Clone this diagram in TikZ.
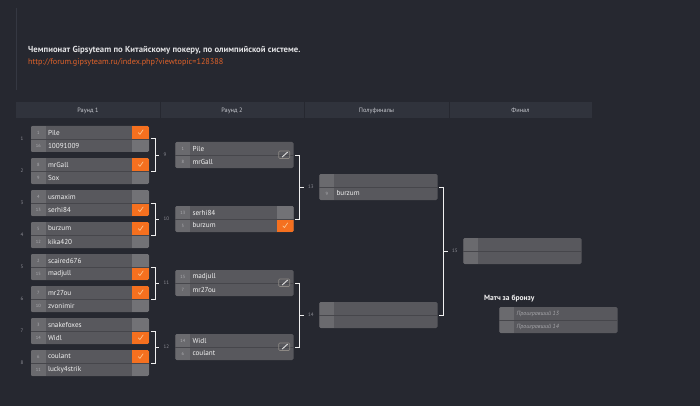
\documentclass[tikz,border=0pt]{standalone}
\usepackage{fontspec}
\setmainfont{PT Sans}
\usetikzlibrary{calc}
\definecolor{bg}{HTML}{262830}
\definecolor{vlc}{HTML}{353842}
\definecolor{barc}{HTML}{30333C}
\definecolor{bartxt}{HTML}{C6C8CE}
\definecolor{boxc}{HTML}{58585D}
\definecolor{seedc}{HTML}{6A6A6E}
\definecolor{emptyc}{HTML}{727276}
\definecolor{sepc}{HTML}{46464B}
\definecolor{orc}{HTML}{F5701F}
\definecolor{linkc}{HTML}{E0622A}
\definecolor{titc}{HTML}{E2E2E4}
\definecolor{lblc}{HTML}{8E8E96}
\definecolor{namec}{HTML}{F2F2F2}
\definecolor{seedtc}{HTML}{AEAEB2}
\definecolor{ticc}{HTML}{F9C490}
\definecolor{lossc}{HTML}{A6A6AA}
\definecolor{icc}{HTML}{8C8884}
\definecolor{brkc}{HTML}{F0F0F0}
\tikzset{
  mbox/.style={rectangle, rounded corners=1.5pt, fill=boxc, minimum width=118pt, minimum height=26pt, inner sep=0pt},
  seedt/.style={font=\fontsize{4.5}{5}\selectfont, text=seedtc, inner sep=0pt},
  pname/.style={font=\fontsize{7.2}{8}\selectfont, text=namec, inner sep=0pt, anchor=west},
  mlabel/.style={font=\fontsize{5}{6}\selectfont, text=lblc, inner sep=0pt},
  brk/.style={draw=brkc, line width=1pt},
  bartext/.style={font=\fontsize{6.3}{7}\selectfont, text=bartxt, inner sep=0pt},
  losst/.style={font=\itshape\fontsize{6}{7}\selectfont, text=lossc, inner sep=0pt, anchor=west}
}
\newcommand\matchnode[3]{%
  \node[mbox] (#1) at (#2,#3) {};
  \begin{scope}
    \clip[rounded corners=1.5pt] (#1.north west) rectangle (#1.south east);
    \fill[seedc] (#1.north west) rectangle ($(#1.south west)+(15,0)$);
  \end{scope}}
\newcommand\cellon[3]{%
  \begin{scope}
    \clip[rounded corners=1.5pt] (#1.north west) rectangle (#1.south east);
    \fill[orc] ($(#1.#2)+(-17,0)$) rectangle (#1.#3);
  \end{scope}
  \path ($(#1.#2)!0.5!(#1.#3)+(-8.5,0)$) coordinate (ck);
  \draw[ticc, line width=0.7pt, line cap=round, line join=round]
    ($(ck)+(-2.4,0.2)$) -- ($(ck)+(-0.8,2)$) -- ($(ck)+(2.4,-2.6)$);}
\newcommand\celloff[3]{%
  \begin{scope}
    \clip[rounded corners=1.5pt] (#1.north west) rectangle (#1.south east);
    \fill[emptyc] ($(#1.#2)+(-17,0)$) rectangle (#1.#3);
  \end{scope}}
\newcommand\sepline[1]{\draw[sepc, line width=0.7pt] (#1.west) -- (#1.east);}
\newcommand\pl[5]{%
  \node[seedt] (#1s#2) at ($(#1.west)+(7.5,#3)$) {#4};
  \node[pname] (#1n#2) at ($(#1.west)+(17,#3)$) {#5};}
\newcommand\editicon[1]{%
  \draw[icc, line width=0.6pt, rounded corners=1pt] ($(#1.east)+(-15,-4)$) rectangle ($(#1.east)+(-4,3.5)$);
  \draw[white!88!black, line width=0.9pt] ($(#1.east)+(-11.5,2)$) -- ($(#1.east)+(-6,-3)$);}
\newcommand\brk[4]{%
  \draw[brk] ($(#1.east)+(1.5,0)$) -- ++(4.5,0) |- ($(#2.east)+(1.5,0)$);
  \draw[brk] ($(#1.east)!0.5!(#2.east)+(6,0)$) -- ++(4,0)
    node[mlabel, anchor=west, xshift=4pt] (#3) {#4};}
\begin{document}
\begin{tikzpicture}[x=1pt,y=-1pt]
\fill[bg] (0,0) rectangle (700,406);
\useasboundingbox (0,0) rectangle (700,406);
\draw[vlc, line width=1pt] (16,8) -- (16,90);
\node[anchor=west, inner sep=0pt, font=\bfseries\fontsize{8.7}{10}\selectfont, text=titc] (title) at (28,50.5)
  {Чемпионат Gipsyteam по Китайскому покеру, по олимпийской системе.};
\node[anchor=west, inner sep=0pt, font=\fontsize{8.2}{10}\selectfont, text=linkc] (link) at (28,62.5)
  {http://forum.gipsyteam.ru/index.php?viewtopic=128388};
% header bar
\fill[barc] (16,102) rectangle (592,118);
\foreach \x in {160,304,449} \draw[bg, line width=0.8pt] (\x,102) -- (\x,118);
\node[bartext] (h1) at (88,110.5) {Раунд 1};
\node[bartext] (h2) at (232,110.5) {Раунд 2};
\node[bartext] (h3) at (376.5,110.5) {Полуфиналы};
\node[bartext] (h4) at (520.5,110.5) {Финал};
% round 1
\matchnode{m1}{90}{139}\cellon{m1}{north east}{east}\celloff{m1}{east}{south east}\sepline{m1}
\pl{m1}{a}{-6.5}{1}{Pile}\pl{m1}{b}{6.5}{16}{10091009}
\matchnode{m2}{90}{171}\cellon{m2}{north east}{east}\celloff{m2}{east}{south east}\sepline{m2}
\pl{m2}{a}{-6.5}{8}{mrGall}\pl{m2}{b}{6.5}{9}{Sox}
\matchnode{m3}{90}{203}\celloff{m3}{north east}{east}\cellon{m3}{east}{south east}\sepline{m3}
\pl{m3}{a}{-6.5}{4}{usmaxim}\pl{m3}{b}{6.5}{13}{serhi84}
\matchnode{m4}{90}{235}\cellon{m4}{north east}{east}\celloff{m4}{east}{south east}\sepline{m4}
\pl{m4}{a}{-6.5}{5}{burzum}\pl{m4}{b}{6.5}{12}{kika420}
\matchnode{m5}{90}{267}\celloff{m5}{north east}{east}\cellon{m5}{east}{south east}\sepline{m5}
\pl{m5}{a}{-6.5}{2}{scaired676}\pl{m5}{b}{6.5}{15}{madjull}
\matchnode{m6}{90}{299}\cellon{m6}{north east}{east}\celloff{m6}{east}{south east}\sepline{m6}
\pl{m6}{a}{-6.5}{7}{mr27ou}\pl{m6}{b}{6.5}{10}{zvonimir}
\matchnode{m7}{90}{331}\celloff{m7}{north east}{east}\cellon{m7}{east}{south east}\sepline{m7}
\pl{m7}{a}{-6.5}{3}{snakefoxes}\pl{m7}{b}{6.5}{14}{Widl}
\matchnode{m8}{90}{363}\cellon{m8}{north east}{east}\celloff{m8}{east}{south east}\sepline{m8}
\pl{m8}{a}{-6.5}{6}{coulant}\pl{m8}{b}{6.5}{11}{lucky4strik}
\node[mlabel] (n1) at (22,139) {1};
\node[mlabel] (n2) at (22,171) {2};
\node[mlabel] (n3) at (22,203) {3};
\node[mlabel] (n4) at (22,235) {4};
\node[mlabel] (n5) at (22,267) {5};
\node[mlabel] (n6) at (22,299) {6};
\node[mlabel] (n7) at (22,331) {7};
\node[mlabel] (n8) at (22,363) {8};
% round 2
\matchnode{m9}{234.5}{155}\sepline{m9}
\pl{m9}{a}{-6.5}{1}{Pile}\pl{m9}{b}{6.5}{8}{mrGall}\editicon{m9}
\matchnode{m10}{234.5}{219}\celloff{m10}{north east}{east}\cellon{m10}{east}{south east}\sepline{m10}
\pl{m10}{a}{-6.5}{13}{serhi84}\pl{m10}{b}{6.5}{5}{burzum}
\matchnode{m11}{234.5}{283}\sepline{m11}
\pl{m11}{a}{-6.5}{15}{madjull}\pl{m11}{b}{6.5}{7}{mr27ou}\editicon{m11}
\matchnode{m12}{234.5}{347}\sepline{m12}
\pl{m12}{a}{-6.5}{14}{Widl}\pl{m12}{b}{6.5}{6}{coulant}\editicon{m12}
% semifinals
\matchnode{m13}{378.5}{187}\sepline{m13}
\pl{m13}{b}{6.5}{9}{burzum}
\matchnode{m14}{378.5}{315}\sepline{m14}
% final
\matchnode{m15}{522.5}{251}\sepline{m15}
% bronze
\node[anchor=west, inner sep=0pt, font=\bfseries\fontsize{7.5}{9}\selectfont, text=namec] (bronzet) at (484,299) {Матч за бронзу};
\matchnode{m16}{558.5}{320}\sepline{m16}
\node[losst] (m16na) at ($(m16.west)+(17,-6.5)$) {Проигравший 13};
\node[losst] (m16nb) at ($(m16.west)+(17,6.5)$) {Проигравший 14};
% brackets
\brk{m1}{m2}{l9}{9}
\brk{m3}{m4}{l10}{10}
\brk{m5}{m6}{l11}{11}
\brk{m7}{m8}{l12}{12}
\brk{m9}{m10}{l13}{13}
\brk{m11}{m12}{l14}{14}
\brk{m13}{m14}{l15}{15}
\end{tikzpicture}
\end{document}
